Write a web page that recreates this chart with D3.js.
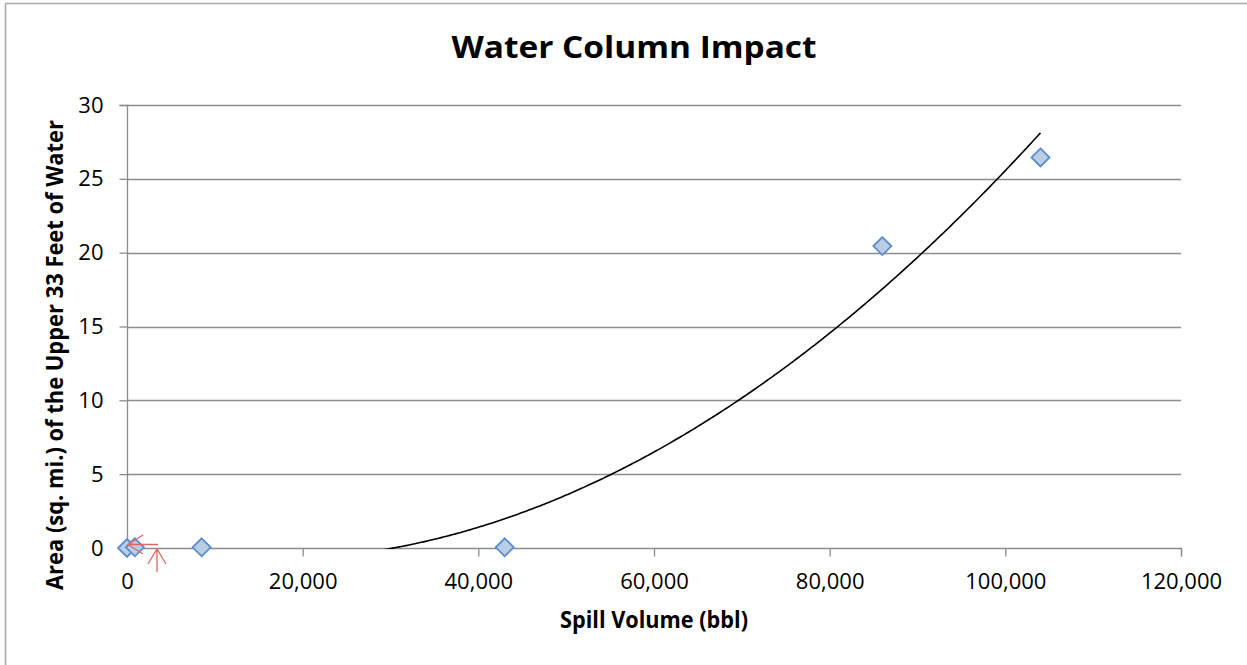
<!DOCTYPE html>
<html>
<head>
<meta charset="utf-8">
<script src="https://cdn.jsdelivr.net/npm/d3@7"></script>
<style>
  html, body { margin: 0; padding: 0; background: #fff; }
  svg { display: block; }
</style>
</head>
<body>
<svg id="chart" width="1247" height="665"></svg>
<script>
// ---- data ----
const spillVolume = [0, 900, 8500, 43000, 86000, 104000];
const areaSqMi    = [0, 0.05, 0.05, 0.05, 20.45, 26.45];
const xTicks = [0, 20000, 40000, 60000, 80000, 100000, 120000];
const yTicks = [0, 5, 10, 15, 20, 25, 30];
const titleText = "Water Column Impact";
const xTitle = "Spill Volume (bbl)";
const yTitle = "Area (sq. mi.) of the Upper 33 Feet of Water";

const svg = d3.select("#chart");
const plot = { left: 127, right: 1181, top: 105, bottom: 548 };
const fontFam = "'Open Sans', Lato, sans-serif";

// outer border
svg.append("rect").attr("x", 5.5).attr("y", 3.5).attr("width", 1260).attr("height", 700)
  .attr("fill", "none").attr("stroke", "#a6a6a6").attr("stroke-width", 1.5);

const x = d3.scaleLinear().domain([0, 120000]).range([plot.left, plot.right]);
const y = d3.scaleLinear().domain([0, 30]).range([plot.bottom, plot.top]);

// gridlines
svg.append("g").selectAll("line").data(yTicks.filter(d => d > 0)).join("line")
  .attr("x1", plot.left).attr("x2", plot.right)
  .attr("y1", d => Math.round(y(d)) + 0.5).attr("y2", d => Math.round(y(d)) + 0.5)
  .attr("stroke", "#8c8c8c").attr("stroke-width", 1.3);

// y axis
const yAxis = d3.axisLeft(y).tickValues(yTicks).tickSize(8).tickPadding(16).tickFormat(d3.format("d"));
const gy = svg.append("g").attr("transform", `translate(${plot.left + 0.5},0)`).call(yAxis);
gy.select(".domain").attr("stroke", "#8c8c8c").attr("stroke-width", 1.3).attr("d", `M-8,${plot.top+0.5}H0V${plot.bottom+0.5}`);
gy.selectAll(".tick line").attr("stroke", "#8c8c8c").attr("stroke-width", 1.3);
gy.selectAll(".tick text").attr("font-family", fontFam).attr("font-size", 22).attr("fill", "#000");

// x axis
const xAxis = d3.axisBottom(x).tickValues(xTicks).tickSize(8).tickPadding(17).tickFormat(d3.format(","));
const gx = svg.append("g").attr("transform", `translate(0,${plot.bottom + 0.5})`).call(xAxis);
gx.select(".domain").attr("stroke", "#8c8c8c").attr("stroke-width", 1.3).attr("d", `M${plot.left},0H${plot.right+0.5}V8`);
gx.selectAll(".tick line").attr("stroke", "#8c8c8c").attr("stroke-width", 1.3);
gx.selectAll(".tick text").attr("font-family", fontFam).attr("font-size", 22).attr("fill", "#000");

// polynomial (order 2) least-squares trendline computed from the data
function polyFit2(xs, ys) {
  const s = 1e-4;
  let S = [0,0,0,0,0], T = [0,0,0];
  xs.forEach((xv, i) => {
    const xx = xv * s;
    for (let k = 0; k < 5; k++) S[k] += Math.pow(xx, k);
    for (let k = 0; k < 3; k++) T[k] += ys[i] * Math.pow(xx, k);
  });
  const A = [[S[0],S[1],S[2],T[0]],[S[1],S[2],S[3],T[1]],[S[2],S[3],S[4],T[2]]];
  for (let i = 0; i < 3; i++) {
    for (let j = i + 1; j < 3; j++) {
      const f = A[j][i] / A[i][i];
      for (let k = i; k < 4; k++) A[j][k] -= f * A[i][k];
    }
  }
  const c = [0,0,0];
  for (let i = 2; i >= 0; i--) {
    let sum = A[i][3];
    for (let k = i + 1; k < 3; k++) sum -= A[i][k] * c[k];
    c[i] = sum / A[i][i];
  }
  return xv => c[0] + c[1] * (xv * s) + c[2] * (xv * s) * (xv * s);
}
const fit = polyFit2(spillVolume, areaSqMi);
const xMax = d3.max(spillVolume);
const trendPts = d3.range(0, xMax + 1, 250).map(v => [v, fit(v)]);

svg.append("clipPath").attr("id", "clip").append("rect")
  .attr("x", plot.left).attr("y", plot.top).attr("width", plot.right - plot.left).attr("height", plot.bottom - plot.top + 1);
svg.append("path").datum(trendPts)
  .attr("clip-path", "url(#clip)")
  .attr("d", d3.line().x(d => x(d[0])).y(d => y(d[1])))
  .attr("fill", "none").attr("stroke", "#000").attr("stroke-width", 1.6);

// points (diamonds)
svg.append("g").selectAll("path").data(spillVolume.map((v, i) => [v, areaSqMi[i]])).join("path")
  .attr("transform", d => `translate(${x(d[0])},${y(d[1])})`)
  .attr("d", "M0,-9L9,0L0,9L-9,0Z")
  .attr("fill", "#b9cde5").attr("stroke", "#5b8ccc").attr("stroke-width", 1.8);

// red annotation arrows near origin
const arrows = svg.append("g").attr("stroke", "#e06666").attr("stroke-width", 1.3).attr("fill", "none");
arrows.append("path").attr("d", "M158,544.5H128M143,535L128,544.5L143,554");
arrows.append("path").attr("d", "M157,572V549M148,564L157,549L166,564");

// titles
svg.append("text").attr("x", 634).attr("y", 58).attr("text-anchor", "middle")
  .attr("font-family", fontFam).attr("font-weight", "bold").attr("font-size", 31).attr("fill", "#000")
  .attr("textLength", 365).attr("lengthAdjust", "spacingAndGlyphs")
  .text(titleText);
svg.append("text").attr("x", 654).attr("y", 628).attr("text-anchor", "middle")
  .attr("font-family", fontFam).attr("font-weight", "bold").attr("font-size", 23).attr("fill", "#000")
  .attr("textLength", 188).attr("lengthAdjust", "spacingAndGlyphs")
  .text(xTitle);
svg.append("text").attr("transform", "translate(63,355) rotate(-90)").attr("text-anchor", "middle")
  .attr("font-family", fontFam).attr("font-weight", "bold").attr("font-size", 23).attr("fill", "#000")
  .attr("textLength", 470).attr("lengthAdjust", "spacingAndGlyphs")
  .text(yTitle);
</script>
</body>
</html>
